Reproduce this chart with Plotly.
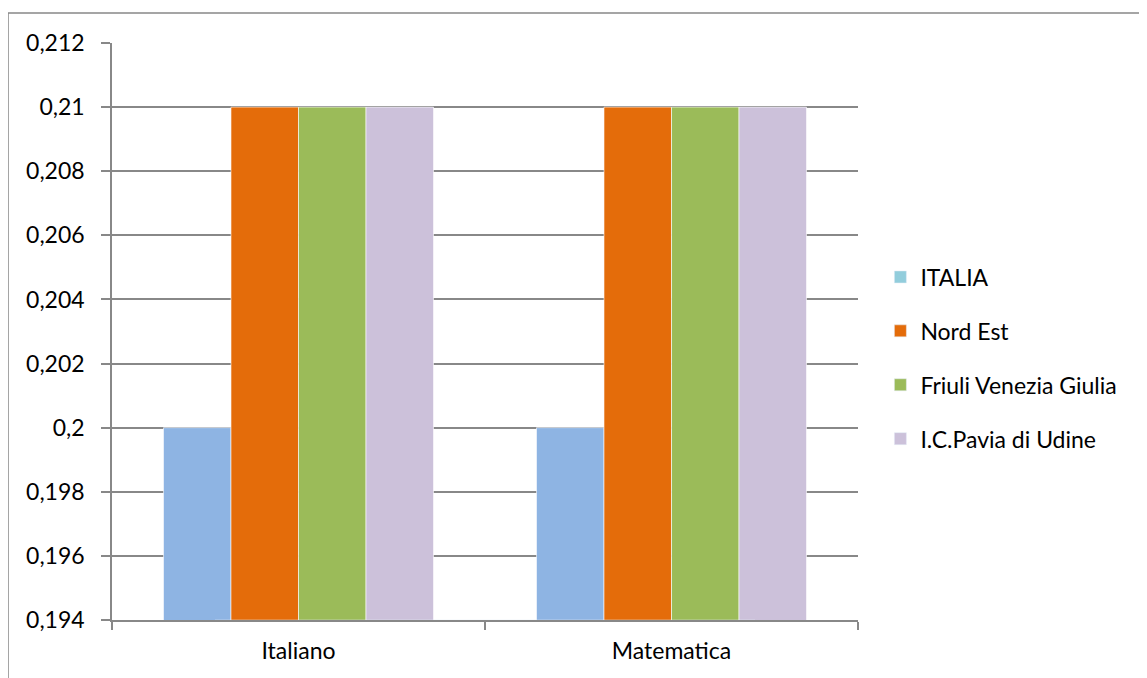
import plotly.graph_objects as go

categories = ["Italiano", "Matematica"]
series_names = ["ITALIA", "Nord Est", "Friuli Venezia Giulia", "I.C.Pavia di Udine"]
italia = [0.200, 0.200]
nord_est = [0.210, 0.210]
fvg = [0.210, 0.210]
pavia = [0.210, 0.210]
values = [italia, nord_est, fvg, pavia]

bar_colors = ["#8EB4E3", "#E46C0A", "#9BBB59", "#CCC1DA"]
legend_colors = ["#92CDDC", "#E46C0A", "#9BBB59", "#CCC1DA"]

FONT = "Lato, Carlito, Calibri, sans-serif"
GRAY = "#888888"
FS = 23

fig = go.Figure()

for i, (name, vals) in enumerate(zip(series_names, values)):
    # legend-only swatch (on hidden axes, out of range)
    fig.add_trace(go.Bar(
        x=[categories[0]], y=[-1], name=name,
        marker=dict(color=legend_colors[i]),
        xaxis="x2", yaxis="y2", legendgroup=name, showlegend=True,
        hoverinfo="skip",
    ))
    fig.add_trace(go.Bar(
        x=categories, y=vals, name=name,
        marker=dict(color=bar_colors[i], line=dict(color="white", width=0.6)),
        legendgroup=name, showlegend=False,
    ))

# page body has an 8px margin; compensate
OFF = 8
W, H = 1147 - OFF, 678 - OFF
L, T = 112 - OFF, 43 - OFF
R = W - (858 - OFF)
B = H - (620 - OFF)
pw = W - L - R
ph = H - T - B

fig.update_layout(
    width=W, height=H,
    margin=dict(l=L, r=R, t=T, b=B, autoexpand=False),
    paper_bgcolor="white", plot_bgcolor="white",
    separators=",.",
    font=dict(family=FONT, size=FS, color="#000000"),
    barmode="group", bargap=0.276, bargroupgap=0,
    showlegend=True,
    legend=dict(
        x=1.03, xanchor="left", y=(620 - 358) / ph, yanchor="middle",
        font=dict(family=FONT, size=FS, color="#000000"),
        tracegroupgap=21, itemwidth=30, bgcolor="rgba(0,0,0,0)",
    ),
    xaxis=dict(
        type="category", tickson="boundaries", ticks="outside", ticklen=8,
        tickcolor=GRAY, tickwidth=1.5, showline=True, linecolor=GRAY, linewidth=1.5,
        showgrid=False, tickfont=dict(family=FONT, size=FS), ticklabelstandoff=10,
    ),
    yaxis=dict(
        range=[0.194, 0.212], tick0=0.194, dtick=0.002, tickformat="~g",
        ticks="outside", ticklen=9, tickcolor=GRAY, tickwidth=1.5,
        showline=True, linecolor=GRAY, linewidth=1.5,
        showgrid=True, gridcolor=GRAY, gridwidth=1.5, zeroline=False,
        tickfont=dict(family=FONT, size=FS), ticklabelstandoff=12,
    ),
    xaxis2=dict(type="category", overlaying="x", visible=False),
    yaxis2=dict(overlaying="y", visible=False, range=[0, 1]),
    shapes=[dict(
        type="rect", xref="paper", yref="paper",
        x0=(8 - 112) / pw, x1=(1147 + 20 - 112) / pw,
        y0=-0.5, y1=(620 - 13) / ph,
        line=dict(color=GRAY, width=1.5), fillcolor="rgba(0,0,0,0)", layer="below",
    )],
)

fig.write_html("out.html")
